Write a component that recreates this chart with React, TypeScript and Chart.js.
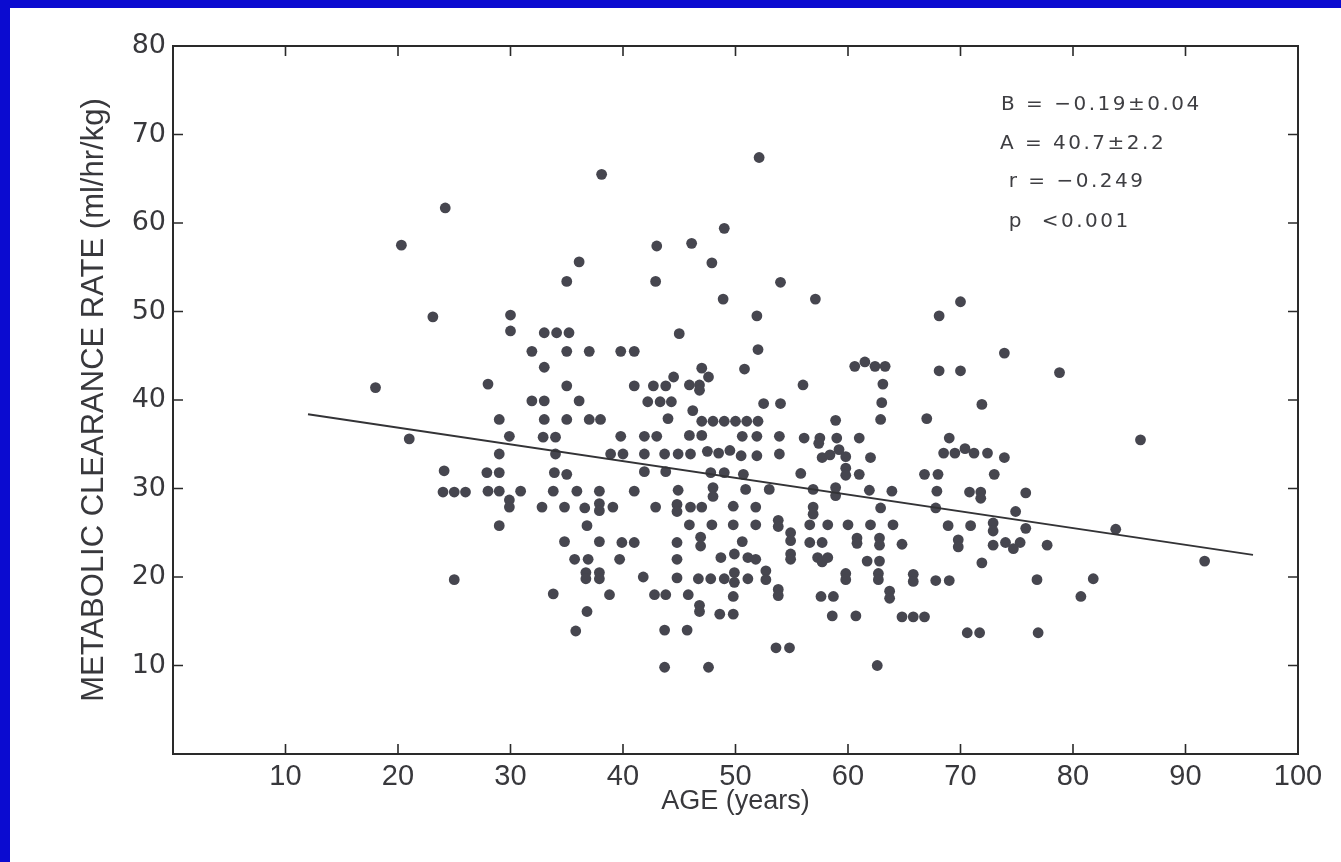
import { useEffect, useRef } from "react";
import { Chart, registerables } from "chart.js";

Chart.register(...registerables);

const xTicks = [10, 20, 30, 40, 50, 60, 70, 80, 90, 100];
const yTicks = [10, 20, 30, 40, 50, 60, 70, 80];

const xTitle = "AGE (years)";
const yTitle = "METABOLIC CLEARANCE RATE (ml/hr/kg)";

const statsLines = ["B = \u22120.19\u00B10.04", "A = 40.7\u00B12.2", " r = \u22120.249", " p  <0.001"];
const statsAge = [73.6, 73.5, 73.5, 73.5];
const statsRate = [73.3, 69.0, 64.6, 60.1];

// regression line end points (age, rate)
const fitAges = [12, 96];
const fitRates = [38.4, 22.5];

// observed (age, metabolic clearance rate)
const observations: [number, number][] = [
  [18.0, 41.4], [20.3, 57.5], [21.0, 35.6], [23.1, 49.4], [24.2, 61.7], [24.1, 32.0],
  [24.0, 29.6], [25.0, 29.6], [26.0, 29.6], [25.0, 19.7],
  [38.1, 65.5], [36.1, 55.6], [35.0, 53.4], [43.0, 57.4], [46.1, 57.7], [49.0, 59.4],
  [47.9, 55.5], [42.9, 53.4], [48.9, 51.4], [30.0, 49.6], [30.0, 47.8], [33.0, 47.6],
  [34.1, 47.6], [35.2, 47.6], [31.9, 45.5], [35.0, 45.5], [37.0, 45.5], [39.8, 45.5],
  [41.0, 45.5], [33.0, 43.7], [45.0, 47.5], [47.0, 43.6], [28.0, 41.8], [35.0, 41.6],
  [41.0, 41.6], [42.7, 41.6], [43.8, 41.6], [44.5, 42.6], [45.9, 41.7], [46.8, 41.7],
  [47.6, 42.6], [46.8, 41.1], [50.8, 43.5], [31.9, 39.9], [33.0, 39.9], [36.1, 39.9],
  [42.2, 39.8], [43.3, 39.8], [44.3, 39.8],
  [29.0, 37.8], [33.0, 37.8], [35.0, 37.8], [37.0, 37.8], [38.0, 37.8], [44.0, 37.9],
  [46.2, 38.8], [47.0, 37.6], [48.0, 37.6], [49.0, 37.6], [50.0, 37.6], [51.0, 37.6],
  [52.0, 37.6], [29.9, 35.9], [32.9, 35.8], [34.0, 35.8], [39.8, 35.9], [41.9, 35.9],
  [43.0, 35.9], [45.9, 36.0], [47.0, 36.0], [50.6, 35.9], [51.9, 35.9],
  [29.0, 33.9], [34.0, 33.9], [38.9, 33.9], [40.0, 33.9], [41.9, 33.9], [43.7, 33.9],
  [44.9, 33.9], [46.0, 33.9], [47.5, 34.2], [48.5, 34.0], [49.5, 34.3], [50.5, 33.7],
  [51.9, 33.7],
  [27.9, 31.8], [29.0, 31.8], [33.9, 31.8], [35.0, 31.6], [41.9, 31.9], [43.8, 31.9],
  [47.8, 31.8], [49.0, 31.8], [50.7, 31.6],
  [28.0, 29.7], [29.0, 29.7], [30.9, 29.7], [29.9, 28.7], [29.9, 27.9], [33.8, 29.7],
  [35.9, 29.7], [37.9, 29.7], [41.0, 29.7], [44.9, 29.8], [48.0, 30.1], [48.0, 29.1],
  [50.9, 29.9],
  [32.8, 27.9], [34.8, 27.9], [36.6, 27.8], [37.9, 28.3], [37.9, 27.5], [39.1, 27.9],
  [42.9, 27.9], [44.8, 28.2], [44.8, 27.4], [46.0, 27.9], [47.0, 27.9], [49.8, 28.0],
  [29.0, 25.8], [36.8, 25.8], [45.9, 25.9], [47.9, 25.9], [49.8, 25.9],
  [34.8, 24.0], [37.9, 24.0], [39.9, 23.9], [41.0, 23.9], [44.8, 23.9], [46.9, 24.5],
  [46.9, 23.5], [50.6, 24.0],
  [35.7, 22.0], [36.9, 22.0], [39.7, 22.0], [44.8, 22.0], [48.7, 22.2], [49.9, 22.6],
  [51.1, 22.2],
  [36.7, 20.5], [37.9, 20.5], [36.7, 19.8], [37.9, 19.8], [41.8, 20.0], [44.8, 19.9],
  [46.7, 19.8], [47.8, 19.8], [49.0, 19.8], [49.9, 20.5], [49.9, 19.4], [51.1, 19.8],
  [33.8, 18.1], [38.8, 18.0], [42.8, 18.0], [43.8, 18.0], [45.8, 18.0], [49.8, 17.8],
  [46.8, 16.8], [46.8, 16.1], [48.6, 15.8], [49.8, 15.8], [36.8, 16.1], [35.8, 13.9],
  [43.7, 14.0], [45.7, 14.0], [43.7, 9.8], [47.6, 9.8],
  [52.1, 67.4], [54.0, 53.3], [57.1, 51.4], [51.9, 49.5], [52.0, 45.7], [56.0, 41.7],
  [60.6, 43.8], [61.5, 44.3], [62.4, 43.8], [63.3, 43.8], [63.1, 41.8], [68.1, 43.3],
  [70.0, 43.3], [68.1, 49.5], [70.0, 51.1], [73.9, 45.3], [78.8, 43.1],
  [52.5, 39.6], [54.0, 39.6], [63.0, 39.7], [71.9, 39.5], [58.9, 37.7], [62.9, 37.8],
  [67.0, 37.9], [53.9, 35.9], [56.1, 35.7], [57.5, 35.7], [57.4, 35.1], [59.0, 35.7],
  [61.0, 35.7], [69.0, 35.7],
  [53.9, 33.9], [57.7, 33.5], [58.4, 33.8], [59.2, 34.4], [59.8, 33.6], [62.0, 33.5],
  [68.5, 34.0], [69.5, 34.0], [70.4, 34.5], [71.2, 34.0], [72.4, 34.0], [73.9, 33.5],
  [55.8, 31.7], [59.8, 32.3], [59.8, 31.5], [61.0, 31.6], [66.8, 31.6], [68.0, 31.6],
  [73.0, 31.6],
  [53.0, 29.9], [56.9, 29.9], [58.9, 30.1], [58.9, 29.2], [61.9, 29.8], [63.9, 29.7],
  [67.9, 29.7], [70.8, 29.6], [71.8, 29.6], [71.8, 28.9], [75.8, 29.5],
  [51.8, 27.9], [56.9, 27.9], [56.9, 27.1], [62.9, 27.8], [67.8, 27.8], [74.9, 27.4],
  [51.8, 25.9], [53.8, 26.4], [53.8, 25.7], [56.6, 25.9], [58.2, 25.9], [60.0, 25.9],
  [62.0, 25.9], [64.0, 25.9], [68.9, 25.8], [70.9, 25.8], [72.9, 26.1], [72.9, 25.2],
  [75.8, 25.5],
  [54.9, 25.0], [54.9, 24.1], [56.6, 23.9], [57.7, 23.9], [60.8, 24.4], [60.8, 23.8],
  [62.8, 24.4], [62.8, 23.6], [64.8, 23.7], [69.8, 24.2], [69.8, 23.4], [72.9, 23.6],
  [74.0, 23.9], [75.3, 23.9], [74.7, 23.2],
  [51.8, 22.0], [54.9, 22.6], [54.9, 22.0], [57.3, 22.2], [57.7, 21.7], [58.2, 22.2],
  [61.7, 21.8], [62.8, 21.8], [71.9, 21.6],
  [52.7, 20.7], [52.7, 19.7], [59.8, 20.4], [59.8, 19.7], [62.7, 20.4], [62.7, 19.7],
  [65.8, 20.3], [65.8, 19.5], [67.8, 19.6], [69.0, 19.6],
  [53.8, 18.6], [53.8, 17.9], [57.6, 17.8], [58.7, 17.8], [63.7, 18.4], [63.7, 17.6],
  [58.6, 15.6], [60.7, 15.6], [64.8, 15.5], [65.8, 15.5], [66.8, 15.5], [70.6, 13.7],
  [71.7, 13.7], [53.6, 12.0], [54.8, 12.0], [62.6, 10.0],
  [86.0, 35.5], [83.8, 25.4], [77.7, 23.6], [76.8, 19.7], [81.8, 19.8], [80.7, 17.8],
  [76.9, 13.7], [91.7, 21.8],
];

const INK = "#38383c";

const framePlugin = {
  id: "frameAndStats",
  afterDatasetsDraw(chart: any) {
    const { ctx, chartArea, scales } = chart;
    const { left, right, top, bottom } = chartArea;
    const xs = scales.x;
    const ys = scales.y;
    ctx.save();
    ctx.strokeStyle = "#2a2a2a";
    ctx.lineWidth = 2;
    ctx.strokeRect(left, top, right - left, bottom - top);
    ctx.lineWidth = 1.6;
    ctx.beginPath();
    for (const v of xTicks) {
      if (v >= 100) continue;
      const px = xs.getPixelForValue(v);
      ctx.moveTo(px, bottom);
      ctx.lineTo(px, bottom - 10);
      ctx.moveTo(px, top);
      ctx.lineTo(px, top + 10);
    }
    for (const v of yTicks) {
      if (v >= 80) continue;
      const py = ys.getPixelForValue(v);
      ctx.moveTo(left, py);
      ctx.lineTo(left + 10, py);
      ctx.moveTo(right, py);
      ctx.lineTo(right - 10, py);
    }
    ctx.stroke();

    ctx.fillStyle = "#3e3e42";
    ctx.font = '20px "DejaVu Sans", sans-serif';
    try {
      (ctx as any).letterSpacing = "2.5px";
    } catch (e) {}
    ctx.textAlign = "left";
    ctx.textBaseline = "middle";
    statsLines.forEach((t, i) => {
      ctx.fillText(t, xs.getPixelForValue(statsAge[i]), ys.getPixelForValue(statsRate[i]));
    });
    ctx.restore();
  },
};

export default function App() {
  const canvasRef = useRef<HTMLCanvasElement | null>(null);

  useEffect(() => {
    const canvas = canvasRef.current;
    if (!canvas) return;
    const chart = new Chart(canvas, {
      type: "scatter",
      data: {
        datasets: [
          {
            type: "scatter",
            label: "Observations",
            data: observations.map(([a, r]) => ({ x: a, y: r })),
            backgroundColor: "#46464f",
            borderWidth: 0,
            pointRadius: 5.4,
            pointHoverRadius: 5.4,
            order: 2,
          },
          {
            type: "line",
            label: "Regression",
            data: fitAges.map((a, i) => ({ x: a, y: fitRates[i] })),
            borderColor: "#333336",
            borderWidth: 2,
            pointRadius: 0,
            fill: false,
            order: 1,
          } as any,
        ],
      },
      options: {
        responsive: false,
        animation: false,
        events: [],
        layout: { padding: { left: 0, right: 43, top: 46, bottom: 0 } },
        plugins: { legend: { display: false }, tooltip: { enabled: false } },
        scales: {
          x: {
            type: "linear",
            min: 0,
            max: 100,
            afterBuildTicks: (s: any) => {
              s.ticks = xTicks.map((v) => ({ value: v }));
            },
            afterFit: (s: any) => {
              s.height = 108;
            },
            ticks: {
              autoSkip: false,
              maxRotation: 0,
              padding: 6,
              color: INK,
              font: { family: '"Liberation Sans Narrow", "Liberation Sans", sans-serif', size: 29 },
            },
            grid: { display: false, drawTicks: false },
            border: { display: false },
            title: {
              display: true,
              text: xTitle,
              color: INK,
              font: { family: '"Liberation Sans", sans-serif', size: 27 },
              padding: { top: 0, bottom: 44 },
            },
          },
          y: {
            type: "linear",
            min: 0,
            max: 80,
            afterBuildTicks: (s: any) => {
              s.ticks = yTicks.map((v) => ({ value: v }));
            },
            afterFit: (s: any) => {
              s.width = 173;
            },
            ticks: {
              padding: 7,
              color: INK,
              font: { family: '"DejaVu Sans", sans-serif', size: 27 },
            },
            grid: { display: false, drawTicks: false },
            border: { display: false },
            title: {
              display: true,
              text: yTitle,
              color: INK,
              font: { family: '"Liberation Sans", sans-serif', size: 31 },
              padding: { top: 76, bottom: 0 },
            },
          },
        },
      },
      plugins: [framePlugin],
    });
    return () => chart.destroy();
  }, []);

  return (
    <div
      style={{
        position: "fixed",
        left: 0,
        top: 0,
        width: 1341,
        height: 862,
        background: "#ffffff",
        overflow: "hidden",
      }}
    >
      <div style={{ position: "absolute", left: 0, top: 0, width: 10, height: 862, background: "#0b0bd0" }} />
      <div style={{ position: "absolute", left: 0, top: 0, width: 1341, height: 8, background: "#0b0bd0" }} />
      <canvas ref={canvasRef} width={1341} height={862} style={{ position: "absolute", left: 0, top: 0 }} />
    </div>
  );
}
